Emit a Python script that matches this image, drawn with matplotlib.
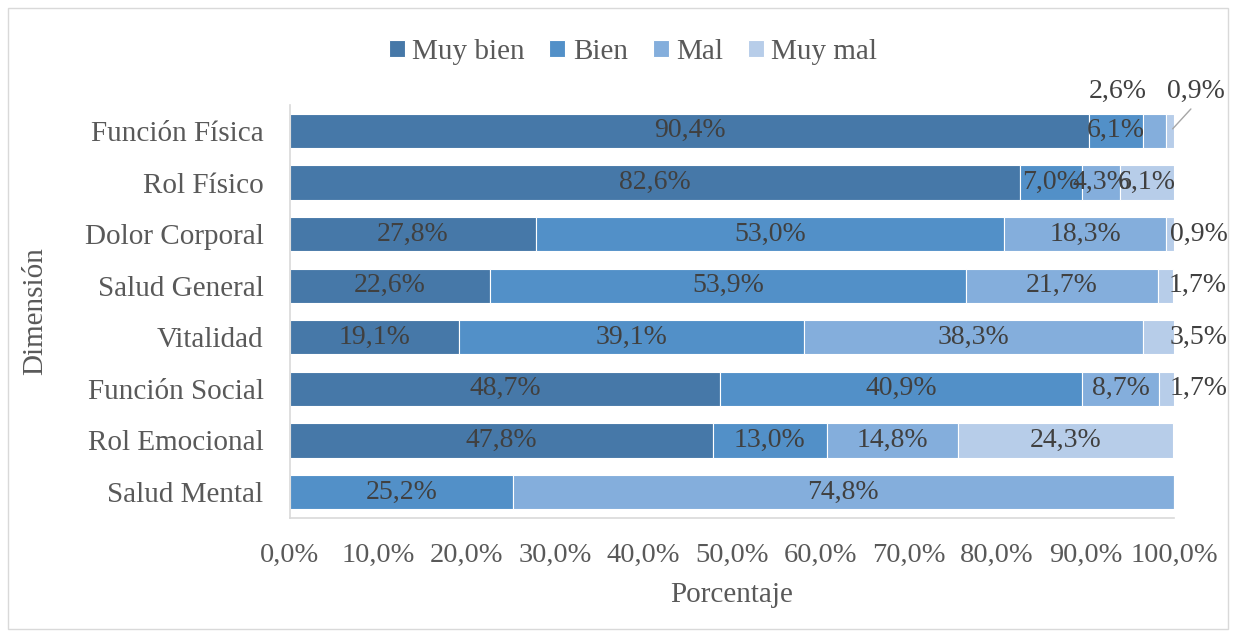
import matplotlib
matplotlib.use("Agg")
import matplotlib.pyplot as plt
from matplotlib.patches import Rectangle
import numpy as np

# Datos (porcentajes)
dimensiones = ["Función Física", "Rol Físico", "Dolor Corporal", "Salud General",
               "Vitalidad", "Función Social", "Rol Emocional", "Salud Mental"]
categorias = ["Muy bien", "Bien", "Mal", "Muy mal"]
muy_bien = [90.4, 82.6, 27.8, 22.6, 19.1, 48.7, 47.8, 0.0]
bien = [6.1, 7.0, 53.0, 53.9, 39.1, 40.9, 13.0, 25.2]
mal = [2.6, 4.3, 18.3, 21.7, 38.3, 8.7, 14.8, 74.8]
muy_mal = [0.9, 6.1, 0.9, 1.7, 3.5, 1.7, 24.3, 0.0]
ticks_x = [0, 10, 20, 30, 40, 50, 60, 70, 80, 90, 100]

colores = ["#4678A8", "#5290C8", "#84AEDC", "#B7CDE9"]
texto = "#404040"
gris = "#595959"

plt.rcParams["font.family"] = ["Liberation Serif", "DejaVu Serif"]

fig = plt.figure(figsize=(12.36, 6.37), dpi=100)
ax = fig.add_axes([0.2346, 0.187, 0.7152, 0.648])

# borde del gráfico
fig.patches.append(Rectangle((8 / 1236, 8 / 637), 1220 / 1236, 621 / 637,
                             transform=fig.transFigure, fill=False,
                             edgecolor="#d9d9d9", linewidth=1))

y = np.arange(len(dimensiones))
series = [muy_bien, bien, mal, muy_mal]
left = np.zeros(len(dimensiones))
barras = []
for nombre, valores, color in zip(categorias, series, colores):
    valores = np.array(valores)
    ax.barh(y, valores, left=left, height=0.66, color=color,
            edgecolor="white", linewidth=0.8, label=nombre)
    barras.append((valores, left.copy()))
    left = left + valores

# etiquetas de datos
fs_dato = 20
for k, (valores, izq) in enumerate(barras):
    for i, v in enumerate(valores):
        if v <= 0:
            continue
        etiqueta = f"{v:.1f}%".replace(".", ",")
        centro = izq[i] + v / 2
        if i == 0 and k == 2:
            ax.annotate(etiqueta, (centro, i), xytext=(-37, 39),
                        textcoords="offset pixels", ha="center", va="center",
                        fontsize=fs_dato, color=texto)
        elif i == 0 and k == 3:
            ax.annotate(etiqueta, (izq[i] + v, i), xytext=(22, 39),
                        textcoords="offset pixels", ha="center", va="center",
                        fontsize=fs_dato, color=texto)
            ax.annotate("", (izq[i] + v * 0.6, i), xytext=(22, 24),
                        textcoords="offset pixels",
                        arrowprops=dict(arrowstyle="-", color="#a6a6a6", lw=1))
        elif k == 3 and v < 4:
            ax.annotate(etiqueta, (izq[i] + v, i), xytext=(25, 0),
                        textcoords="offset pixels", ha="center", va="center",
                        fontsize=fs_dato, color=texto)
        else:
            ax.text(centro, i, etiqueta, ha="center", va="center",
                    fontsize=fs_dato, color=texto)

ax.set_xlim(0, 100)
ax.set_ylim(len(dimensiones) - 0.5, -0.5)
ax.set_yticks(y)
ax.set_yticklabels(dimensiones, fontsize=21, color=gris)
ax.set_xticks(ticks_x)
ax.set_xticklabels([f"{t:.1f}%".replace(".", ",") for t in ticks_x],
                   fontsize=20.5, color=gris)
ax.tick_params(axis="y", length=0, pad=19)
ax.tick_params(axis="x", length=0, pad=18)
for lado in ["top", "right"]:
    ax.spines[lado].set_visible(False)
for lado in ["left", "bottom"]:
    ax.spines[lado].set_color("#d9d9d9")
    ax.spines[lado].set_linewidth(1.2)

ax.set_xlabel("Porcentaje", fontsize=21, color=gris, labelpad=10)
fig.text(35 / 1236, 1 - 311 / 637, "Dimensión", rotation=90, fontsize=21,
         color=gris, ha="center", va="center")

fig.legend(loc="center", bbox_to_anchor=(0.512, 1 - 52 / 637), ncol=4,
           frameon=False, fontsize=21, labelcolor=gris, handlelength=0.55,
           handleheight=0.55, handletextpad=0.25, columnspacing=0.85)

fig.savefig("out.png", dpi=100)
